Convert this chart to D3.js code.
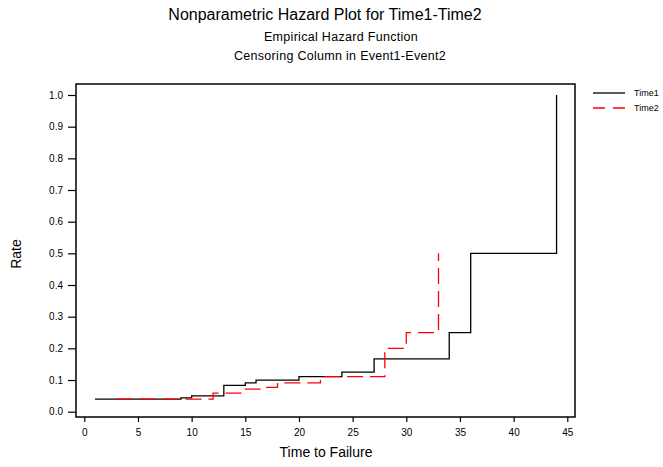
<!DOCTYPE html>
<html>
<head>
<meta charset="utf-8">
<script src="https://cdn.jsdelivr.net/npm/d3@7"></script>
<style>
  body { margin: 0; background: #fff; }
  svg { font-family: "Liberation Sans", Arial, sans-serif; }
</style>
</head>
<body>
<svg id="chart" width="663" height="467"></svg>
<script>
// step points: time of failure, hazard rate after it
const time1Times = [1, 9, 10, 13, 15, 16, 20, 24, 27, 34, 36, 44];
const time1Rates = [0.04, 0.0435, 0.05, 0.0833, 0.0909, 0.1, 0.111, 0.125, 0.1667, 0.25, 0.5, 1.0];
const time2Times = [3, 12, 15, 17, 18, 22, 28, 30, 33];
const time2Rates = [0.04, 0.0588, 0.0714, 0.0769, 0.0909, 0.111, 0.2, 0.25, 0.5];
const seriesNames = ["Time1", "Time2"];
const xTicks = [0, 5, 10, 15, 20, 25, 30, 35, 40, 45];
const yTicks = [0, 0.1, 0.2, 0.3, 0.4, 0.5, 0.6, 0.7, 0.8, 0.9, 1.0];

const svg = d3.select("#chart");
const frame = {left: 76, right: 575, top: 84, bottom: 417};

const x = d3.scaleLinear().domain([0, 45]).range([84.3, 567.3]);
const y = d3.scaleLinear().domain([0, 1]).range([411.7, 95]);

function toPoints(times, rates) {
  return times.map((t, i) => ({t: t, r: rates[i]}));
}

const series = [
  {name: seriesNames[0], values: toPoints(time1Times, time1Rates), color: "#000", dash: null},
  {name: seriesNames[1], values: toPoints(time2Times, time2Rates), color: "#ff0000", dash: "16,7"}
];

// titles
svg.append("text")
  .attr("x", 325).attr("y", 20)
  .attr("text-anchor", "middle")
  .style("font-size", "16px")
  .text("Nonparametric Hazard Plot for Time1-Time2");
svg.append("text")
  .attr("x", 341).attr("y", 41)
  .attr("text-anchor", "middle")
  .style("font-size", "12.5px")
  .style("letter-spacing", "0.3px")
  .text("Empirical Hazard Function");
svg.append("text")
  .attr("x", 340).attr("y", 60)
  .attr("text-anchor", "middle")
  .style("font-size", "12.5px")
  .style("letter-spacing", "0.3px")
  .text("Censoring Column in Event1-Event2");

// axes
const xAxis = svg.append("g")
  .attr("transform", "translate(0," + frame.bottom + ")")
  .call(d3.axisBottom(x).tickValues(xTicks).tickSize(5).tickPadding(7).tickFormat(d3.format("d")));
const yAxis = svg.append("g")
  .attr("transform", "translate(" + frame.left + ",0)")
  .call(d3.axisLeft(y).tickValues(yTicks).tickSize(8).tickPadding(5).tickFormat(d3.format(".1f")));

[xAxis, yAxis].forEach(function(ax) {
  ax.select(".domain").remove();
  ax.selectAll(".tick line").attr("stroke", "#000").attr("stroke-width", 1.2);
  ax.selectAll(".tick text")
    .attr("fill", "#000")
    .style("font-family", "'Liberation Sans', Arial, sans-serif")
    .style("font-size", "10px");
});

// frame
svg.append("rect")
  .attr("x", frame.left).attr("y", frame.top)
  .attr("width", frame.right - frame.left)
  .attr("height", frame.bottom - frame.top)
  .attr("fill", "none")
  .attr("stroke", "#000")
  .attr("stroke-width", 1.5);

// axis labels
svg.append("text")
  .attr("transform", "translate(21,254) rotate(-90)")
  .attr("text-anchor", "middle")
  .style("font-size", "14px")
  .text("Rate");
svg.append("text")
  .attr("x", 326).attr("y", 457)
  .attr("text-anchor", "middle")
  .style("font-size", "14px")
  .text("Time to Failure");

// step lines
const line = d3.line()
  .curve(d3.curveStepAfter)
  .x(function(d) { return x(d.t); })
  .y(function(d) { return y(d.r); });

svg.selectAll(".hazard")
  .data(series)
  .enter()
  .append("path")
  .attr("class", "hazard")
  .attr("d", function(d) { return line(d.values); })
  .attr("fill", "none")
  .attr("stroke", function(d) { return d.color; })
  .attr("stroke-width", 1.3)
  .attr("stroke-dasharray", function(d) { return d.dash; });

// legend
const legend = svg.selectAll(".legend")
  .data(series)
  .enter()
  .append("g")
  .attr("class", "legend")
  .attr("transform", function(d, i) { return "translate(593," + (93 + i * 15) + ")"; });
legend.append("line")
  .attr("x1", 0).attr("x2", 32)
  .attr("stroke", function(d) { return d.color; })
  .attr("stroke-width", 1.3)
  .attr("stroke-dasharray", function(d) { return d.dash ? "12,8" : null; });
legend.append("text")
  .attr("x", 41).attr("dy", "0.35em")
  .style("font-size", "9px")
  .text(function(d) { return d.name; });
</script>
</body>
</html>
